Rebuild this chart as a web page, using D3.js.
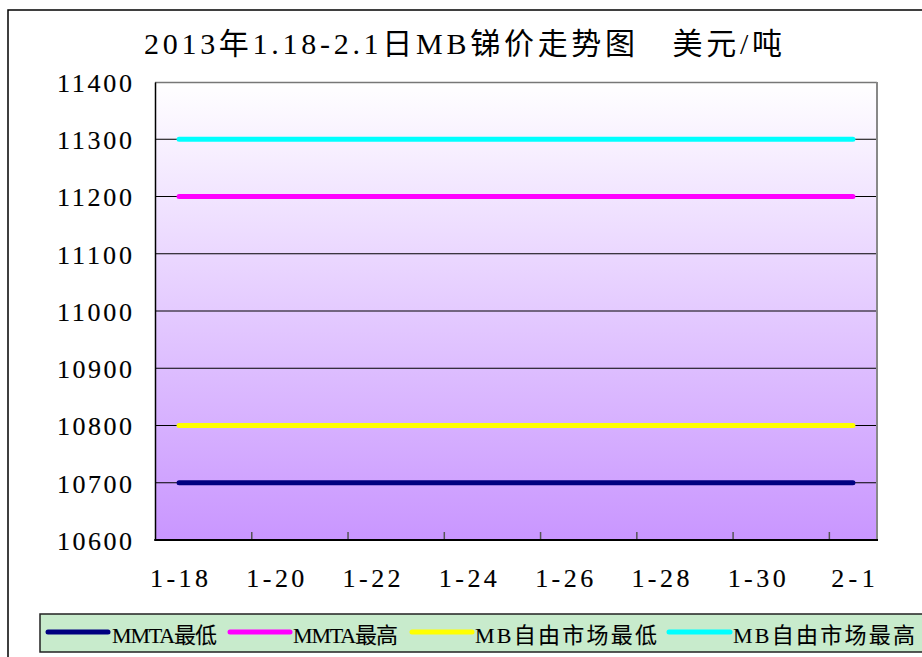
<!DOCTYPE html>
<html><head><meta charset="utf-8">
<script src="https://cdn.jsdelivr.net/npm/d3@7/dist/d3.min.js"></script>
<style>body{margin:0;background:#fff;}svg{display:block;}</style>
</head><body>
<svg id="c" width="922" height="657"></svg>
<script>
const title = "2013年1.18-2.1日MB锑价走势图　美元/吨";
const dates = ["2013-01-18","2013-01-21","2013-01-22","2013-01-23","2013-01-24","2013-01-25","2013-01-28","2013-01-29","2013-01-30","2013-01-31","2013-02-01"];
const seriesNames = ["MMTA最低","MMTA最高","MB自由市场最低","MB自由市场最高"];
const mmtaLow  = [10700,10700,10700,10700,10700,10700,10700,10700,10700,10700,10700];
const mmtaHigh = [11200,11200,11200,11200,11200,11200,11200,11200,11200,11200,11200];
const mbLow    = [10800,10800,10800,10800,10800,10800,10800,10800,10800,10800,10800];
const mbHigh   = [11300,11300,11300,11300,11300,11300,11300,11300,11300,11300,11300];
const yTicks = [10600,10700,10800,10900,11000,11100,11200,11300,11400];
const xLabelDates = ["2013-01-18","2013-01-20","2013-01-22","2013-01-24","2013-01-26","2013-01-28","2013-01-30","2013-02-01"];
const xLabels = ["1-18","1-20","1-22","1-24","1-26","1-28","1-30","2-1"];
const colors = ["#000080","#FF00FF","#FFFF00","#00FFFF"];

const svg = d3.select("#c");
const L = 155, R = 877, T = 82, B = 540;
const parse = d3.utcParse("%Y-%m-%d");
const HALF = 12*3600*1000;
const x = d3.scaleUtc().domain([parse("2013-01-18"), parse("2013-02-02")]).range([L, R]);
const y = d3.scaleLinear().domain([10600, 11400]).range([B, T]);
const font = "'Liberation Serif','Noto Sans CJK SC',serif";

// outer border
svg.append("path").attr("d","M8,657V10H922").attr("fill","none").attr("stroke","#000").attr("stroke-width",1.5);

// gradient
const defs = svg.append("defs");
const g = defs.append("linearGradient").attr("id","bg").attr("x1",0).attr("y1",0).attr("x2",0).attr("y2",1);
g.append("stop").attr("offset","0%").attr("stop-color","#FFFFFF");
g.append("stop").attr("offset","100%").attr("stop-color","#C996FF");
svg.append("rect").attr("x",L).attr("y",T).attr("width",R-L).attr("height",B-T).attr("fill","url(#bg)");

// gridlines
svg.append("g").selectAll("line").data(yTicks.slice(1,-1)).join("line")
  .attr("x1",L).attr("x2",R).attr("y1",d=>y(d)).attr("y2",d=>y(d))
  .attr("stroke","#000").attr("stroke-width",1);

// frame
svg.append("line").attr("x1",L).attr("x2",R).attr("y1",T+0.5).attr("y2",T+0.5).attr("stroke","#777").attr("stroke-width",1.5);
svg.append("line").attr("x1",R).attr("x2",R).attr("y1",T).attr("y2",B).attr("stroke","#888").attr("stroke-width",2);

// x axis ticks (inward, at date boundaries)
const xTickDates = d3.utcDay.range(parse("2013-01-20"), parse("2013-02-02"), 2);
const xAxis = d3.axisBottom(x).tickValues(xTickDates).tickSizeInner(-8).tickSizeOuter(0).tickFormat("");
const gx = svg.append("g").attr("transform",`translate(0,${B})`).call(xAxis);
gx.select(".domain").remove();
gx.selectAll(".tick line").attr("stroke","#555").attr("stroke-width",1.5);

// y axis
const yAxis = d3.axisLeft(y).tickValues(yTicks).tickSize(0).tickFormat(d=>d);
const gy = svg.append("g").attr("transform",`translate(${L},0)`).call(yAxis);
gy.select(".domain").attr("stroke","#000").attr("stroke-width",1.5);
gy.selectAll(".tick text").attr("x",-23).attr("dy","0.36em")
  .attr("font-family",font).attr("font-size",26).attr("fill","#000")
  .attr("stroke","#000").attr("stroke-width",0.15)
  .attr("textLength",75).attr("lengthAdjust","spacing");

// bottom axis line
svg.append("line").attr("x1",L-0.75).attr("x2",R+1).attr("y1",B).attr("y2",B).attr("stroke","#000").attr("stroke-width",2);

// x labels
svg.append("g").selectAll("text").data(xLabels).join("text")
  .attr("x",(d,i)=>x(new Date(parse(xLabelDates[i]).getTime()+HALF)))
  .attr("y",587).attr("text-anchor","middle")
  .attr("font-family",font).attr("font-size",26).attr("fill","#000")
  .attr("stroke","#000").attr("stroke-width",0.15)
  .attr("textLength",d=>d.length*14.5).attr("lengthAdjust","spacing")
  .text(d=>d);

// lines
const allSeries = [mmtaLow, mmtaHigh, mbLow, mbHigh];
const line = d3.line().x((d,i)=>x(new Date(parse(dates[i]).getTime()+HALF))).y(d=>y(d));
svg.append("g").selectAll("path").data(allSeries).join("path")
  .attr("d",d=>line(d)).attr("fill","none")
  .attr("stroke",(d,i)=>colors[i]).attr("stroke-width",5)
  .attr("stroke-linecap","round").attr("stroke-linejoin","round");

// title
svg.append("text").attr("x",144).attr("y",54)
  .attr("font-family",font).attr("font-size",30).attr("fill","#000")
  .attr("textLength",638).attr("lengthAdjust","spacing").text(title);

// legend
svg.append("path").attr("d","M922,614H40V652H922").attr("fill","#C8EBCC").attr("stroke","#222").attr("stroke-width",1.5);
const legSample = [[48,108],[230,290],[412,472],[669,730]];
const legText = [[112,105],[293,105],[475,182],[733,182]];
const lg = svg.append("g");
seriesNames.forEach((n,i)=>{
  lg.append("line").attr("x1",legSample[i][0]).attr("x2",legSample[i][1]).attr("y1",632).attr("y2",632)
    .attr("stroke",colors[i]).attr("stroke-width",5).attr("stroke-linecap","round");
  lg.append("text").attr("x",legText[i][0]).attr("y",643)
    .attr("font-family",font).attr("font-size",22).attr("fill","#000")
    .attr("stroke","#000").attr("stroke-width",0.1)
    .attr("textLength",legText[i][1]).attr("lengthAdjust","spacing").text(n);
});
</script>
</body></html>
